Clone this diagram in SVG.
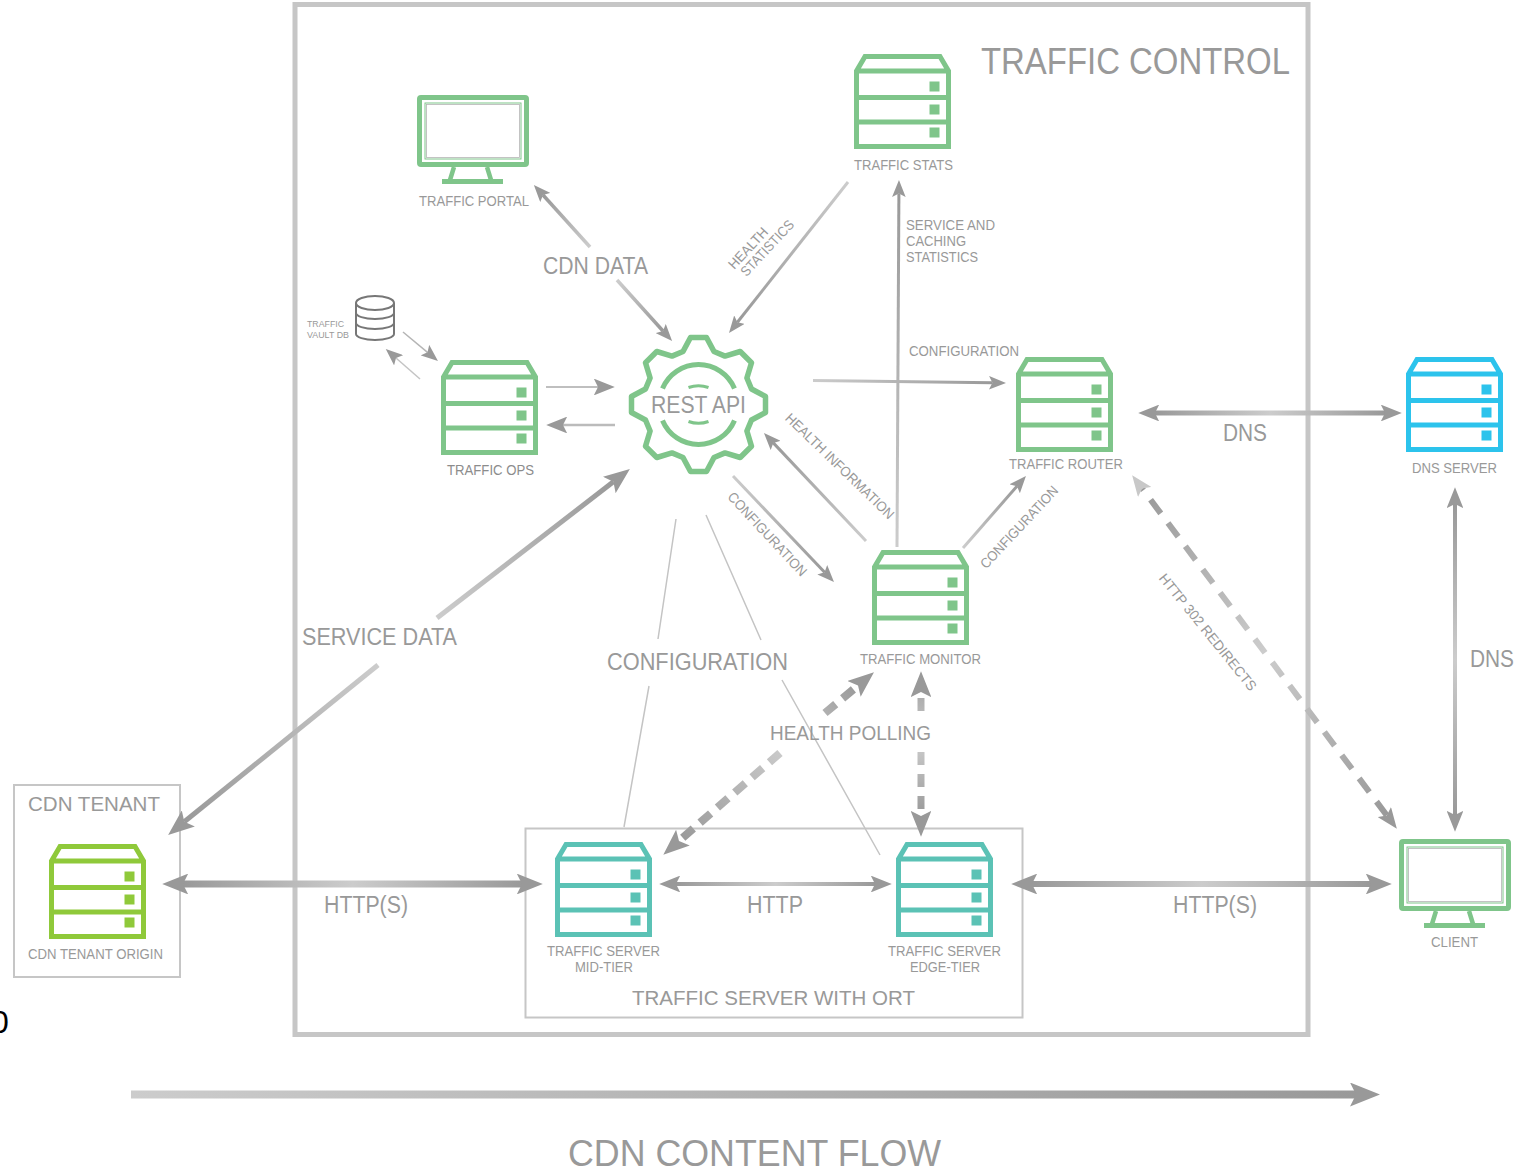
<svg xmlns="http://www.w3.org/2000/svg" width="1531" height="1171" viewBox="0 0 1531 1171">
<style>
text{font-family:"Liberation Sans",Arial,sans-serif;fill:#999}
.s14{font-size:14px}.s9{font-size:9.5px}.s23{font-size:23px}.s21{font-size:21px}
.mid{text-anchor:middle}
.box{fill:none;stroke:#c6c6c6;stroke-width:2}
.srv path{fill:none;stroke:currentColor;stroke-width:5}
.srv rect{fill:currentColor;stroke:none}
.green{color:#7fc58a}.teal{color:#5bc2b5}.blue{color:#2cc3ec}.lime{color:#8fc93a}
.c{fill:none}
.thin{stroke:#c4c4c4;stroke-width:1.5;fill:none}
</style>
<defs>
<g id="srv" class="srv">
<path d="M2.5 17L11 2.5H86L94.5 17V92.5H2.5ZM2.5 17H94.5M2.5 43.5H94.5M2.5 68H94.5"/>
<rect x="75.500" y="27.500" width="10" height="10"/><rect x="75.500" y="50.500" width="10" height="10"/><rect x="75.500" y="73.500" width="10" height="10"/>
</g>
<g id="mon">
<rect x="2.5" y="2.5" width="107" height="67" rx="1.5" fill="#fff" stroke="#7fc58a" stroke-width="5"/>
<rect x="8" y="8" width="96" height="56" fill="none" stroke="#7fc58a" stroke-width="1"/>
<rect x="9.500" y="9.500" width="93" height="53" fill="none" stroke="#b5b5b5" stroke-width="0.800"/>
<path d="M37 72L33 85M70 72L74 85" fill="none" stroke="#7fc58a" stroke-width="4.5"/>
<rect x="25" y="84" width="61" height="5" fill="#7fc58a"/>
</g>
<marker id="hS" viewBox="0 0 20 16" refX="4" refY="8" markerUnits="userSpaceOnUse" markerWidth="17" markerHeight="13.6" orient="auto-start-reverse"><path d="M0 0L20 8L0 16L4 8Z" fill="#999"/></marker>
<marker id="hM" viewBox="0 0 20 16" refX="4" refY="8" markerUnits="userSpaceOnUse" markerWidth="21" markerHeight="16.8" orient="auto-start-reverse"><path d="M0 0L20 8L0 16L4 8Z" fill="#999"/></marker>
<marker id="hML" viewBox="0 0 20 16" refX="4" refY="8" markerUnits="userSpaceOnUse" markerWidth="21" markerHeight="16.8" orient="auto-start-reverse"><path d="M0 0L20 8L0 16L4 8Z" fill="#c8c8c8"/></marker>
<marker id="hL" viewBox="0 0 20 16" refX="4" refY="8" markerUnits="userSpaceOnUse" markerWidth="26" markerHeight="20.8" orient="auto-start-reverse"><path d="M0 0L20 8L0 16L4 8Z" fill="#999"/></marker>
<marker id="hX" viewBox="0 0 20 16" refX="4" refY="8" markerUnits="userSpaceOnUse" markerWidth="30" markerHeight="24" orient="auto-start-reverse"><path d="M0 0L20 8L0 16L4 8Z" fill="#999"/></marker>
<linearGradient id="g1" gradientUnits="userSpaceOnUse" x1="590" y1="247" x2="543" y2="195"><stop offset="0" stop-color="#ccc"/><stop offset="1" stop-color="#999"/></linearGradient>
<linearGradient id="g2" gradientUnits="userSpaceOnUse" x1="617" y1="280" x2="663" y2="331"><stop offset="0" stop-color="#ccc"/><stop offset="1" stop-color="#999"/></linearGradient>
<linearGradient id="g3" gradientUnits="userSpaceOnUse" x1="848" y1="182" x2="737" y2="322"><stop offset="0" stop-color="#ccc"/><stop offset="1" stop-color="#999"/></linearGradient>
<linearGradient id="g4" gradientUnits="userSpaceOnUse" x1="437" y1="618" x2="613" y2="482"><stop offset="0" stop-color="#ccc"/><stop offset="1" stop-color="#999"/></linearGradient>
<linearGradient id="g5" gradientUnits="userSpaceOnUse" x1="378" y1="665" x2="184" y2="822"><stop offset="0" stop-color="#ccc"/><stop offset="1" stop-color="#999"/></linearGradient>
<linearGradient id="g6" gradientUnits="userSpaceOnUse" x1="813" y1="0" x2="992" y2="0"><stop offset="0" stop-color="#ccc"/><stop offset="1" stop-color="#999"/></linearGradient>
<linearGradient id="g7" gradientUnits="userSpaceOnUse" x1="0" y1="547" x2="0" y2="194"><stop offset="0" stop-color="#ccc"/><stop offset="1" stop-color="#999"/></linearGradient>
<linearGradient id="g8" gradientUnits="userSpaceOnUse" x1="866" y1="541" x2="773" y2="443"><stop offset="0" stop-color="#ccc"/><stop offset="1" stop-color="#999"/></linearGradient>
<linearGradient id="g9" gradientUnits="userSpaceOnUse" x1="733" y1="476" x2="825" y2="572"><stop offset="0" stop-color="#ccc"/><stop offset="1" stop-color="#999"/></linearGradient>
<linearGradient id="g10" gradientUnits="userSpaceOnUse" x1="963" y1="548" x2="1017" y2="486"><stop offset="0" stop-color="#ccc"/><stop offset="1" stop-color="#999"/></linearGradient>
<linearGradient id="b1" gradientUnits="userSpaceOnUse" x1="1155" y1="0" x2="1385" y2="0"><stop offset="0" stop-color="#999"/><stop offset=".5" stop-color="#ccc"/><stop offset="1" stop-color="#999"/></linearGradient>
<linearGradient id="b2" gradientUnits="userSpaceOnUse" x1="0" y1="504" x2="0" y2="815"><stop offset="0" stop-color="#999"/><stop offset=".5" stop-color="#ccc"/><stop offset="1" stop-color="#999"/></linearGradient>
<linearGradient id="b3" gradientUnits="userSpaceOnUse" x1="183" y1="0" x2="522" y2="0"><stop offset="0" stop-color="#999"/><stop offset=".5" stop-color="#ccc"/><stop offset="1" stop-color="#999"/></linearGradient>
<linearGradient id="b4" gradientUnits="userSpaceOnUse" x1="676" y1="0" x2="875" y2="0"><stop offset="0" stop-color="#999"/><stop offset=".5" stop-color="#ccc"/><stop offset="1" stop-color="#999"/></linearGradient>
<linearGradient id="b5" gradientUnits="userSpaceOnUse" x1="1032" y1="0" x2="1371" y2="0"><stop offset="0" stop-color="#999"/><stop offset=".5" stop-color="#ccc"/><stop offset="1" stop-color="#999"/></linearGradient>
<linearGradient id="b6" gradientUnits="userSpaceOnUse" x1="1142" y1="489" x2="1387" y2="815"><stop offset="0" stop-color="#999"/><stop offset=".5" stop-color="#ccc"/><stop offset="1" stop-color="#999"/></linearGradient>
<linearGradient id="b7" gradientUnits="userSpaceOnUse" x1="679" y1="841" x2="858" y2="685"><stop offset="0" stop-color="#999"/><stop offset=".6" stop-color="#ccc"/><stop offset="1" stop-color="#999"/></linearGradient>
<linearGradient id="b8" gradientUnits="userSpaceOnUse" x1="0" y1="692" x2="0" y2="816"><stop offset="0" stop-color="#aaa"/><stop offset=".4" stop-color="#ccc"/><stop offset="1" stop-color="#999"/></linearGradient>
<linearGradient id="f" gradientUnits="userSpaceOnUse" x1="131" y1="0" x2="1356" y2="0"><stop offset="0" stop-color="#ccc"/><stop offset="1" stop-color="#999"/></linearGradient>
</defs>
<rect width="1531" height="1171" fill="#fff"/>
<g id="containers">
<rect id="traffic-control" x="295" y="4.5" width="1013" height="1030" fill="none" stroke="#c6c6c6" stroke-width="5"/>
<rect id="cdn-tenant" class="box" x="14" y="785" width="166" height="192"/>
<rect id="traffic-server-ort" class="box" x="525.500" y="828.500" width="497" height="189"/>
<text x="981" y="73.500" font-size="36" textLength="309" lengthAdjust="spacingAndGlyphs">TRAFFIC CONTROL</text>
<text x="28" y="810.500" class="s21" textLength="132" lengthAdjust="spacingAndGlyphs">CDN TENANT</text>
<text x="632" y="1005" class="s21" textLength="283" lengthAdjust="spacingAndGlyphs">TRAFFIC SERVER WITH ORT</text>
</g>
<g id="connectors">
<path class="thin" d="M676 519L658 639M649 686L624 827M706 515L761 640M782 680L880 855"/>
<path class="c" stroke="url(#g1)" stroke-width="3.500" d="M590 247L543 195" marker-end="url(#hS)"/>
<path class="c" stroke="url(#g2)" stroke-width="3.500" d="M617 280L663 331" marker-end="url(#hS)"/>
<path class="c" stroke="url(#g3)" stroke-width="3" d="M848 182L737.400 322.300" marker-end="url(#hS)"/>
<path class="c" stroke="#b5b5b5" stroke-width="1.500" d="M403 332L427.500 352.300" marker-end="url(#hS)"/>
<path class="c" stroke="#c4c4c4" stroke-width="1.500" d="M420 379L396 358" marker-end="url(#hS)"/>
<path class="c" stroke="#aaa" stroke-width="1.500" d="M546 387H598" marker-end="url(#hM)"/>
<path class="c" stroke="#bbb" stroke-width="2.500" d="M615 425H563" marker-end="url(#hM)"/>
<path class="c" stroke="url(#g4)" stroke-width="5" d="M437 618L613.400 481.800" marker-end="url(#hL)"/>
<path class="c" stroke="url(#g5)" stroke-width="5" d="M378 665L184.300 821.800" marker-end="url(#hL)"/>
<path class="c" stroke="url(#g6)" stroke-width="3" d="M813 380.500L992.400 382.800" marker-end="url(#hS)"/>
<path class="c" stroke="url(#g7)" stroke-width="3" d="M897 547L898.900 193.600" marker-end="url(#hS)"/>
<path class="c" stroke="url(#g8)" stroke-width="3" d="M866 541L773.300 442.900" marker-end="url(#hS)"/>
<path class="c" stroke="url(#g9)" stroke-width="3" d="M733 476L824.600 572.200" marker-end="url(#hS)"/>
<path class="c" stroke="url(#g10)" stroke-width="3" d="M963 548L1017 486.200" marker-end="url(#hS)"/>
<path class="c" stroke="url(#b1)" stroke-width="5" d="M1155 413H1385" marker-start="url(#hM)" marker-end="url(#hM)"/>
<path class="c" stroke="url(#b2)" stroke-width="4" d="M1455 504V815" marker-start="url(#hM)" marker-end="url(#hM)"/>
<path class="c" stroke="url(#b6)" stroke-width="6" stroke-dasharray="17 12" stroke-dashoffset="-14" d="M1142.200 488.600L1386.800 815.400" marker-start="url(#hML)" marker-end="url(#hM)"/>
<path class="c" stroke="url(#b7)" stroke-width="8" stroke-dasharray="14 9" stroke-dashoffset="-6" d="M858 685.500L825 713" marker-start="url(#hL)"/>
<path class="c" stroke="url(#b7)" stroke-width="8" stroke-dasharray="14 9" d="M780 753L679 841" marker-end="url(#hL)"/>
<path class="c" stroke="url(#b8)" stroke-width="7" stroke-dasharray="13 9" stroke-dashoffset="-6" d="M921 692V714" marker-start="url(#hL)"/>
<path class="c" stroke="url(#b8)" stroke-width="7" stroke-dasharray="13 9" d="M921 752V816" marker-end="url(#hL)"/>
<path class="c" stroke="url(#b3)" stroke-width="7" d="M183 884H522" marker-start="url(#hL)" marker-end="url(#hL)"/>
<path class="c" stroke="url(#b4)" stroke-width="4" d="M676 884H875" marker-start="url(#hM)" marker-end="url(#hM)"/>
<path class="c" stroke="url(#b5)" stroke-width="6" d="M1032 884H1371" marker-start="url(#hL)" marker-end="url(#hL)"/>
<path class="c" stroke="url(#f)" stroke-width="8" d="M131 1094.500H1356" marker-end="url(#hX)"/>
</g>
<g id="connector-labels">
<text x="543" y="274" class="s23" textLength="105" lengthAdjust="spacingAndGlyphs">CDN DATA</text>
<text class="s14 mid" transform="translate(748 248) rotate(-47)" y="5" textLength="51" lengthAdjust="spacingAndGlyphs">HEALTH</text>
<text class="s14 mid" transform="translate(767 248) rotate(-47)" y="5" textLength="71" lengthAdjust="spacingAndGlyphs">STATISTICS</text>
<text x="906" y="230" class="s14" textLength="89" lengthAdjust="spacingAndGlyphs">SERVICE AND</text>
<text x="906" y="246" class="s14" textLength="60" lengthAdjust="spacingAndGlyphs">CACHING</text>
<text x="906" y="262" class="s14" textLength="72" lengthAdjust="spacingAndGlyphs">STATISTICS</text>
<text x="909" y="356" class="s14" textLength="110" lengthAdjust="spacingAndGlyphs">CONFIGURATION</text>
<text class="s14 mid" transform="translate(840 466) rotate(44)" y="5" textLength="145" lengthAdjust="spacingAndGlyphs">HEALTH INFORMATION</text>
<text class="s14 mid" transform="translate(767.500 534) rotate(47)" y="5" textLength="109" lengthAdjust="spacingAndGlyphs">CONFIGURATION</text>
<text class="s14 mid" transform="translate(1019 527) rotate(-47)" y="5" textLength="107" lengthAdjust="spacingAndGlyphs">CONFIGURATION</text>
<text class="s14 mid" transform="translate(1208 632) rotate(51)" y="5" textLength="146" lengthAdjust="spacingAndGlyphs">HTTP 302 REDIRECTS</text>
<text x="1223" y="441" class="s23" textLength="44" lengthAdjust="spacingAndGlyphs">DNS</text>
<text x="1470" y="667" class="s23" textLength="44" lengthAdjust="spacingAndGlyphs">DNS</text>
<text x="302" y="645" class="s23" textLength="155" lengthAdjust="spacingAndGlyphs">SERVICE DATA</text>
<text x="607" y="670" class="s23" textLength="181" lengthAdjust="spacingAndGlyphs">CONFIGURATION</text>
<text x="770" y="740" class="s21" textLength="161" lengthAdjust="spacingAndGlyphs">HEALTH POLLING</text>
<text x="324" y="913" class="s23" textLength="84" lengthAdjust="spacingAndGlyphs">HTTP(S)</text>
<text x="747" y="913" class="s23" textLength="56" lengthAdjust="spacingAndGlyphs">HTTP</text>
<text x="1173" y="913" class="s23" textLength="84" lengthAdjust="spacingAndGlyphs">HTTP(S)</text>
<text x="568" y="1166" font-size="36" textLength="373" lengthAdjust="spacingAndGlyphs">CDN CONTENT FLOW</text>
<text x="-9" y="1033" font-size="32" style="fill:#000">0</text>
</g>
<g id="traffic-portal"><use href="#mon" x="417" y="95"/><text x="419" y="206" class="s14" textLength="110" lengthAdjust="spacingAndGlyphs">TRAFFIC PORTAL</text></g>
<g id="traffic-stats" class="green"><use href="#srv" x="854" y="54"/><text x="854" y="170" class="s14" textLength="99" lengthAdjust="spacingAndGlyphs">TRAFFIC STATS</text></g>
<g id="traffic-vault" fill="#fff" stroke="#777" stroke-width="2">
<path d="M356 303V334C356 337 364 340 375 340S394 337 394 334V303M356 313C356 316 364 319 375 319S394 316 394 313M356 323C356 326 364 329 375 329S394 326 394 323"/>
<ellipse cx="375" cy="303" rx="19" ry="7"/>
<text x="307" y="327" class="s9" stroke="none" textLength="37" lengthAdjust="spacingAndGlyphs">TRAFFIC</text>
<text x="307" y="338" class="s9" stroke="none" textLength="42" lengthAdjust="spacingAndGlyphs">VAULT DB</text>
</g>
<g id="traffic-ops" class="green"><use href="#srv" x="441" y="360"/><text x="447" y="475" class="s14" textLength="87" lengthAdjust="spacingAndGlyphs" style="fill:#8c8c8c">TRAFFIC OPS</text></g>
<g id="rest-api" transform="translate(698.500 404.500)">
<path fill="#fff" stroke="#7fc58a" stroke-width="5.500" stroke-linejoin="round" d="M-15.500 -53L-8 -67H8L15.500 -53L26.500 -48.400L41.700 -53L53 -41.700L48.400 -26.500L53 -15.500L67 -8V8L53 15.500L48.400 26.500L53 41.700L41.700 53L26.500 48.400L15.500 53L8 67H-8L-15.500 53L-26.500 48.400L-41.700 53L-53 41.700L-48.400 26.500L-53 15.500L-67 8V-8L-53 -15.500L-48.400 -26.500L-53 -41.700L-41.700 -53L-26.500 -48.400Z"/>
<path fill="none" stroke="#7fc58a" stroke-width="5" d="M-36 -16A39 39 0 0 1 36 -16M-36 16A39 39 0 0 0 36 16"/>
<path fill="none" stroke="#7fc58a" stroke-width="3" d="M-10 -17A30 30 0 0 1 10 -17M-10 17A30 30 0 0 0 10 17"/>
<text x="-47.500" y="8.500" class="s23" textLength="95" lengthAdjust="spacingAndGlyphs">REST API</text>
</g>
<g id="traffic-router" class="green"><use href="#srv" x="1016" y="357"/><text x="1009" y="469" class="s14" textLength="114" lengthAdjust="spacingAndGlyphs">TRAFFIC ROUTER</text></g>
<g id="dns-server" class="blue"><use href="#srv" x="1406" y="357"/><text x="1412" y="473" class="s14" textLength="85" lengthAdjust="spacingAndGlyphs">DNS SERVER</text></g>
<g id="traffic-monitor" class="green"><use href="#srv" x="872" y="550"/><text x="860" y="664" class="s14" textLength="121" lengthAdjust="spacingAndGlyphs">TRAFFIC MONITOR</text></g>
<g id="cdn-tenant-origin" class="lime"><use href="#srv" x="49" y="844"/><text x="28" y="959" class="s14" textLength="135" lengthAdjust="spacingAndGlyphs">CDN TENANT ORIGIN</text></g>
<g id="ts-mid" class="teal"><use href="#srv" x="555" y="842"/><text x="547" y="955.500" class="s14" textLength="113" lengthAdjust="spacingAndGlyphs">TRAFFIC SERVER</text><text x="575" y="972" class="s14" textLength="58" lengthAdjust="spacingAndGlyphs">MID-TIER</text></g>
<g id="ts-edge" class="teal"><use href="#srv" x="896" y="842"/><text x="888" y="955.500" class="s14" textLength="113" lengthAdjust="spacingAndGlyphs">TRAFFIC SERVER</text><text x="910" y="972" class="s14" textLength="70" lengthAdjust="spacingAndGlyphs">EDGE-TIER</text></g>
<g id="client"><use href="#mon" x="1399" y="839"/><text x="1431" y="947" class="s14" textLength="47" lengthAdjust="spacingAndGlyphs">CLIENT</text></g>
</svg>
